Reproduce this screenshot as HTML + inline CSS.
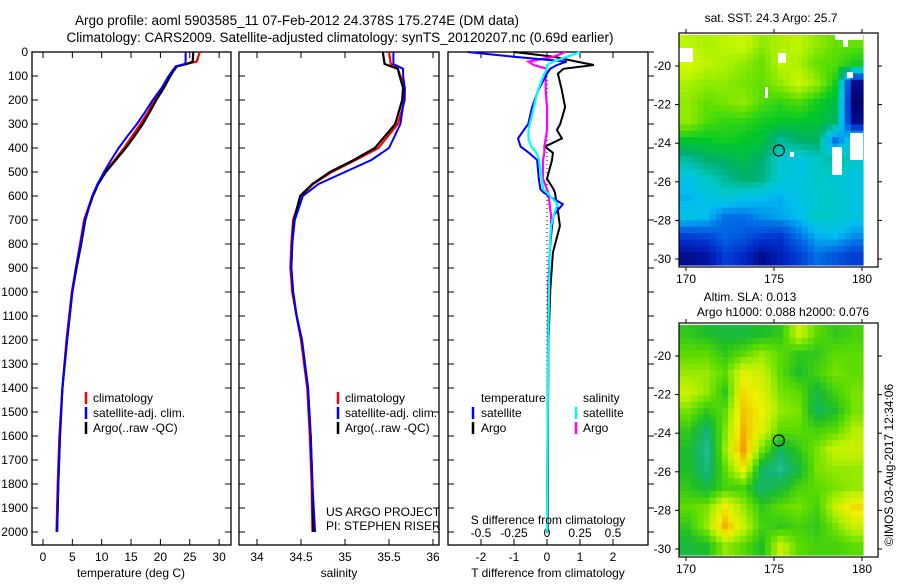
<!DOCTYPE html>
<html><head><meta charset="utf-8"><style>
body{margin:0;background:#fff;}
svg text{font-family:"Liberation Sans","DejaVu Sans",sans-serif;fill:#000;}
</style></head><body>
<svg id="c" width="900" height="580" xmlns="http://www.w3.org/2000/svg">
<text x="297" y="25" font-size="13.5" text-anchor="middle">Argo profile: aoml 5903585_11 07-Feb-2012 24.378S 175.274E (DM data)</text>
<text x="340" y="42" font-size="13.5" text-anchor="middle">Climatology: CARS2009. Satellite-adjusted climatology: synTS_20120207.nc (0.69d earlier)</text>
<text x="771" y="22" font-size="12" text-anchor="middle">sat. SST: 24.3 Argo: 25.7</text>
<text x="750" y="301" font-size="12" text-anchor="middle">Altim. SLA: 0.013</text>
<text x="783" y="316" font-size="12" text-anchor="middle">Argo h1000: 0.088 h2000: 0.076</text>
<text transform="translate(893,465) rotate(-90)" font-size="12" text-anchor="middle">©IMOS 03-Aug-2017 12:34:06</text>
<g id="g"></g>
</svg>
<script>
// ---- data ----
const depthTicks=[0,100,200,300,400,500,600,700,800,900,1000,1100,1200,1300,1400,1500,1600,1700,1800,1900,2000];
const tempTicks=[0,5,10,15,20,25,30];
const salTicks=[34,34.5,35,35.5,36];
const tdTicks=[-2,-1,0,1,2];
const sdTicks=[-0.5,-0.25,0,0.25,0.5];
const tDepth=[0,40,50,60,80,100,150,200,250,300,350,400,450,500,550,600,650,700,800,900,1000,1200,1400,1600,1800,2000];
const tArgo=[25.6,25.5,24.5,22.8,22.2,21.7,20.6,19.3,18.2,17.0,15.6,14.1,12.4,10.7,9.4,8.5,7.8,7.2,6.5,5.7,5.0,4.1,3.3,2.9,2.6,2.4];
const tClim=[26.7,26.2,24.3,22.6,22.0,21.5,20.4,19.0,17.9,16.6,15.2,13.8,12.2,10.6,9.3,8.4,7.7,7.0,6.3,5.6,4.9,4.0,3.3,2.8,2.5,2.3];
const tSat=[24.3,24.3,24.2,22.7,22.0,21.4,20.2,18.7,17.4,16.0,14.4,12.9,11.6,10.4,9.3,8.4,7.8,7.1,6.4,5.6,5.0,4.1,3.3,2.9,2.6,2.4];
const sDepth=[0,50,70,100,150,200,300,400,450,500,550,600,700,800,900,1000,1100,1200,1400,1600,1800,2000];
const sArgo=[35.43,35.45,35.6,35.62,35.66,35.65,35.57,35.34,35.1,34.83,34.63,34.49,34.42,34.4,34.39,34.41,34.45,34.51,34.58,34.61,34.63,34.64];
const sClim=[35.5,35.52,35.6,35.63,35.68,35.68,35.6,35.38,35.12,34.85,34.64,34.5,34.41,34.39,34.38,34.4,34.45,34.5,34.57,34.6,34.62,34.63];
const sSat=[35.55,35.55,35.66,35.66,35.68,35.67,35.63,35.5,35.3,35.0,34.7,34.52,34.43,34.4,34.39,34.41,34.45,34.51,34.58,34.61,34.63,34.66];
const dDepth=[0,20,40,54,70,90,160,230,300,325,360,394,420,450,528,572,586,634,680,725,836,990,1200,1500,2000];
const dTArgo=[-1.0,0.2,0.9,1.42,0.5,0.33,0.45,0.55,0.4,0.3,0.45,-0.06,0.18,0.15,0.0,0.2,0.24,0.3,0.35,0.39,0.18,0.1,0.05,0.03,0.02];
const dTSat=[-2.4,-1.0,0.6,0.3,0.1,0.0,-0.27,-0.45,-0.57,-0.7,-0.88,-0.8,-0.55,-0.3,-0.25,-0.2,-0.1,0.48,0.2,0.15,0.08,0.05,0.03,0.02,0.0];
const dSSat=[0.25,0.15,0.05,0.0,0.0,-0.02,-0.07,-0.1,-0.13,-0.14,-0.14,-0.12,-0.08,-0.06,-0.04,-0.03,0.0,0.08,0.05,0.03,0.02,0.015,0.01,0.005,0.0];
const dSArgo=[0.14,0.05,-0.14,-0.1,0.0,-0.01,-0.01,0.0,0.0,0.0,-0.01,-0.02,-0.02,-0.03,-0.03,0.0,0.01,0.02,0.03,0.03,0.02,0.01,0.01,0.005,0.0];
const latTicks=[-20,-22,-24,-26,-28,-30];
const lonTicks=[170,175,180];
const sstGrid=[
[0.9,0.88,0.9,0.92,0.85,0.88,0.9,0.85,0.8,0.8],
[0.95,0.9,0.88,0.85,0.8,0.9,0.88,0.8,0.78,0.72],
[0.88,0.85,0.85,0.82,0.8,0.85,0.92,0.85,0.72,0.05],
[0.85,0.8,0.82,0.85,0.78,0.75,0.78,0.72,0.66,0.0],
[0.85,0.78,0.75,0.75,0.72,0.7,0.7,0.68,0.62,0.05],
[0.7,0.7,0.72,0.7,0.68,0.55,0.6,0.62,0.3,0.5],
[0.55,0.6,0.62,0.65,0.6,0.48,0.45,0.5,0.55,0.5],
[0.45,0.5,0.55,0.6,0.58,0.48,0.45,0.5,0.48,0.45],
[0.4,0.45,0.48,0.45,0.42,0.4,0.45,0.48,0.5,0.45],
[0.45,0.42,0.3,0.3,0.35,0.38,0.42,0.5,0.5,0.45],
[0.2,0.22,0.28,0.25,0.2,0.18,0.3,0.4,0.42,0.35],
[0.05,0.08,0.2,0.15,0.05,0.12,0.2,0.3,0.25,0.2]];
const slaGrid=[
[0.4,0.35,0.3,0.3,0.35,0.4,0.7,0.5,0.4,0.45],
[0.5,0.5,0.4,0.5,0.6,0.5,0.4,0.4,0.5,0.5],
[0.6,0.6,0.5,0.75,0.7,0.5,0.35,0.45,0.55,0.5],
[0.7,0.6,0.4,0.85,0.75,0.55,0.5,0.3,0.45,0.55],
[0.55,0.4,0.5,0.9,0.8,0.6,0.55,0.25,0.35,0.55],
[0.4,0.2,0.55,0.95,0.75,0.5,0.5,0.45,0.5,0.65],
[0.35,0.1,0.6,1.0,0.55,0.25,0.4,0.55,0.7,0.7],
[0.35,0.15,0.5,0.8,0.25,0.1,0.3,0.55,0.6,0.6],
[0.4,0.3,0.45,0.45,0.2,0.3,0.45,0.5,0.55,0.6],
[0.5,0.55,0.8,0.6,0.4,0.5,0.55,0.45,0.7,0.85],
[0.4,0.6,0.95,0.7,0.45,0.4,0.45,0.4,0.55,0.7],
[0.3,0.35,0.6,0.5,0.35,0.7,0.5,0.45,0.45,0.5]];
const floatLon=175.274, floatLat=-24.378;

const NS="http://www.w3.org/2000/svg";
const G=document.getElementById('g');
function mk(tag,at,parent){const e=document.createElementNS(NS,tag);for(const k in at)e.setAttribute(k,at[k]);(parent||G).appendChild(e);return e;}
const top0=52,bot=545;
const yD=d=>top0+d*0.24;
const xT=t=>43+t*5.87;
const xS=s=>257+(s-34)*88;
const xTD=t=>547+t*33;
const xSD=s=>547+s*132;

function panel(name,x0,x1,ticksRight){
  const r=mk('rect',{x:x0,y:top0,width:x1-x0,height:bot-top0,fill:'none',stroke:'#000','stroke-width':1.3});
  
  depthTicks.forEach(d=>{
    mk('line',{x1:x0,x2:x0+6,y1:yD(d),y2:yD(d),stroke:'#000'});
    if(ticksRight) mk('line',{x1:x1,x2:x1+6,y1:yD(d),y2:yD(d),stroke:'#000'});
    else mk('line',{x1:x1-6,x2:x1,y1:yD(d),y2:yD(d),stroke:'#000'});
  });
}
function xaxis(name,ticks,fx,y,fmt){
  ticks.forEach(t=>{
    mk('line',{x1:fx(t),x2:fx(t),y1:bot,y2:bot-6,stroke:'#000'});
    mk('line',{x1:fx(t),x2:fx(t),y1:top0,y2:top0+6,stroke:'#000'});
    const tx=mk('text',{x:fx(t),y:y,'font-size':12,'text-anchor':'middle'});tx.textContent=fmt?fmt(t):t;
    
  });
}
function line(name,ys,xs,fx,color,w){
  const p=ys.map((d,i)=>fx(xs[i]).toFixed(1)+','+yD(d).toFixed(1)).join(' ');
  const e=mk('polyline',{points:p,fill:'none',stroke:color,'stroke-width':w||2});
  
}
function txt(name,x,y,s,size,anchor){const t=mk('text',{x:x,y:y,'font-size':size||12,'text-anchor':anchor||'start'});t.textContent=s;return t;}
function tick(name,x,y,c){const e=mk('line',{x1:x,x2:x,y1:y-6,y2:y+6,stroke:c,'stroke-width':2.5});}

// panel 1
panel('temperature-panel',32,231,false);
depthTicks.forEach(d=>{const t=txt('depth-tick-label',28,yD(d)+4,d,12,'end');});
xaxis('temperature',tempTicks,xT,561);
line('temp-climatology',tDepth,tClim,xT,'#f00',2.2);
line('temp-argo',tDepth,tArgo,xT,'#000',2.2);
line('temp-satellite',tDepth,tSat,xT,'#00f',2);
txt('temperature-axis-title',131,577,'temperature (deg C)',12,'middle');
tick('legend-clim-swatch',86,398,'#f00');txt('legend-climatology',93,402,'climatology');
tick('legend-sat-swatch',86,413,'#00f');txt('legend-satellite',93,417,'satellite-adj. clim.');
tick('legend-argo-swatch',86,428,'#000');txt('legend-argo',93,432,'Argo(..raw -QC)');

// panel 2
panel('salinity-panel',239,439,false);
xaxis('salinity',salTicks,xS,561);
line('sal-climatology',sDepth,sClim,xS,'#f00',2.2);
line('sal-argo',sDepth,sArgo,xS,'#000',2.2);
line('sal-satellite',sDepth,sSat,xS,'#00f',2);
txt('salinity-axis-title',339,577,'salinity',12,'middle');
tick('legend2-clim-swatch',338,398,'#f00');txt('legend2-climatology',345,402,'climatology');
tick('legend2-sat-swatch',338,413,'#00f');txt('legend2-satellite',345,417,'satellite-adj. clim.');
tick('legend2-argo-swatch',338,428,'#000');txt('legend2-argo',345,432,'Argo(..raw -QC)');
txt('project-label',326,516,'US ARGO PROJECT');
txt('pi-label',326,530,'PI: STEPHEN RISER');

// panel 3
panel('difference-panel',448,648,true);
xaxis('t-diff',tdTicks,xTD,561);
sdTicks.forEach(s=>{const t=txt('s-diff-tick-label',xSD(s),537,s,12,'middle');});
mk('line',{x1:xTD(0),x2:xTD(0),y1:top0,y2:bot,stroke:'#000','stroke-dasharray':'1,3'});
line('tdiff-argo',dDepth,dTArgo,xTD,'#000',2);
line('sdiff-argo',dDepth,dSArgo,xSD,'#f0f',2.2);
line('tdiff-satellite',dDepth,dTSat,xTD,'#00f',2);
line('sdiff-satellite',dDepth,dSSat,xSD,'#0ff',2.2);
txt('s-diff-axis-title',548,524,'S difference from climatology',12,'middle');
txt('t-diff-axis-title',548,577,'T difference from climatology',12,'middle');
txt('legend3-temperature',481,402,'temperature');
txt('legend3-salinity',583,402,'salinity');
tick('legend3-tsat-swatch',473,413,'#00f');txt('legend3-tsat',481,417,'satellite');
tick('legend3-targo-swatch',473,428,'#000');txt('legend3-targo',481,432,'Argo');
tick('legend3-ssat-swatch',576,413,'#0ff');txt('legend3-ssat',583,417,'satellite');
tick('legend3-sargo-swatch',576,428,'#f0f');txt('legend3-sargo',583,432,'Argo');

// maps
function lerp(a,b,t){return a+(b-a)*t;}
function cmap(stops,v){v=Math.max(0,Math.min(1,v));for(let i=1;i<stops.length;i++){if(v<=stops[i][0]){const a=stops[i-1],b=stops[i],t=(v-a[0])/(b[0]-a[0]);return 'rgb('+[1,2,3].map(k=>Math.round(lerp(a[k],b[k],t))).join(',')+')';}}return 'rgb('+stops[stops.length-1].slice(1).join(',')+')';}
const sstStops=[[0,0,0,110],[0.15,0,40,200],[0.3,0,110,230],[0.42,0,190,240],[0.5,0,200,200],[0.6,0,175,110],[0.7,0,200,40],[0.8,100,225,0],[0.9,190,245,0],[1,235,250,0]];
const slaStops=[[0,40,200,170],[0.2,20,180,110],[0.35,30,190,40],[0.5,90,220,0],[0.65,180,240,0],[0.8,240,240,0],[1,240,160,0]];
function map(name,grid,stops,lat20y,lat30y,fy,fb){
  const lonX=l=>686+(l-170)*17.6;
  const latY=l=>lat20y+(-20-l)*(lat30y-lat20y)/10;
  const g=mk('g',{});
  const x0=679,x1=863,y0=fy,y1=fb,R=grid.length,C=grid[0].length,sub=3;
  const cw=(x1-x0)/C/sub,ch=(y1-y0)/R/sub;
  for(let r=0;r<R*sub;r++)for(let c=0;c<C*sub;c++){
    const fr=Math.max(0,Math.min(R-1,(r+0.5)/sub-0.5)),fc=Math.max(0,Math.min(C-1,(c+0.5)/sub-0.5));
    const r0=Math.floor(fr),c0=Math.floor(fc),r1=Math.min(R-1,r0+1),c1=Math.min(C-1,c0+1),tr=fr-r0,tc=fc-c0;
    const v=lerp(lerp(grid[r0][c0],grid[r0][c1],tc),lerp(grid[r1][c0],grid[r1][c1],tc),tr);
    const e=mk('rect',{x:(x0+c*cw).toFixed(2),y:(y0+r*ch).toFixed(2),width:(cw+0.6).toFixed(2),height:(ch+0.6).toFixed(2),fill:cmap(stops,v)},g);
    
  }
  return {g,lonX,latY};
}
function mapFrame(name,fy,fb,lat20y,lat30y){
  const f=mk('rect',{x:679,y:fy-2,width:199,height:fb-fy+4,fill:'none',stroke:'#000','stroke-width':1.2});
  
  const latY=l=>lat20y+(-20-l)*(lat30y-lat20y)/10, lonX=l=>686+(l-170)*17.6;
  latTicks.forEach(l=>{mk('line',{x1:675,x2:679,y1:latY(l),y2:latY(l),stroke:'#000'});mk('line',{x1:878,x2:882,y1:latY(l),y2:latY(l),stroke:'#000'});txt(name+'-lat-label',671,latY(l)+4,l,12,'end');});
  lonTicks.forEach(l=>{mk('line',{x1:lonX(l),x2:lonX(l),y1:fb+2,y2:fb+6,stroke:'#000'});mk('line',{x1:lonX(l),x2:lonX(l),y1:fy-6,y2:fy-2,stroke:'#000'});txt(name+'-lon-label',lonX(l),fb+18,l,12,'middle');});
  const c=mk('circle',{cx:lonX(floatLon),cy:latY(floatLat),r:5.5,fill:'none',stroke:'#000','stroke-width':1.2});
  
}
const m1=map('sst-map',sstGrid,sstStops,66,259,35,265);
[[679,48,14,14],[778,53,8,10],[765,87,3,11],[790,152,4,5],[832,147,10,28],[850,133,13,27],[847,72,6,6],[835,35,28,5],[843,35,5,12]].forEach(b=>{const e=mk('rect',{x:b[0],y:b[1],width:b[2],height:b[3],fill:'#fff'},m1.g);});
mapFrame('sst-map',35,265,66,259);
const m2=map('sla-map',slaGrid,slaStops,356,549,325,555);
mapFrame('sla-map',325,555,356,549);
</script>
</body></html>
